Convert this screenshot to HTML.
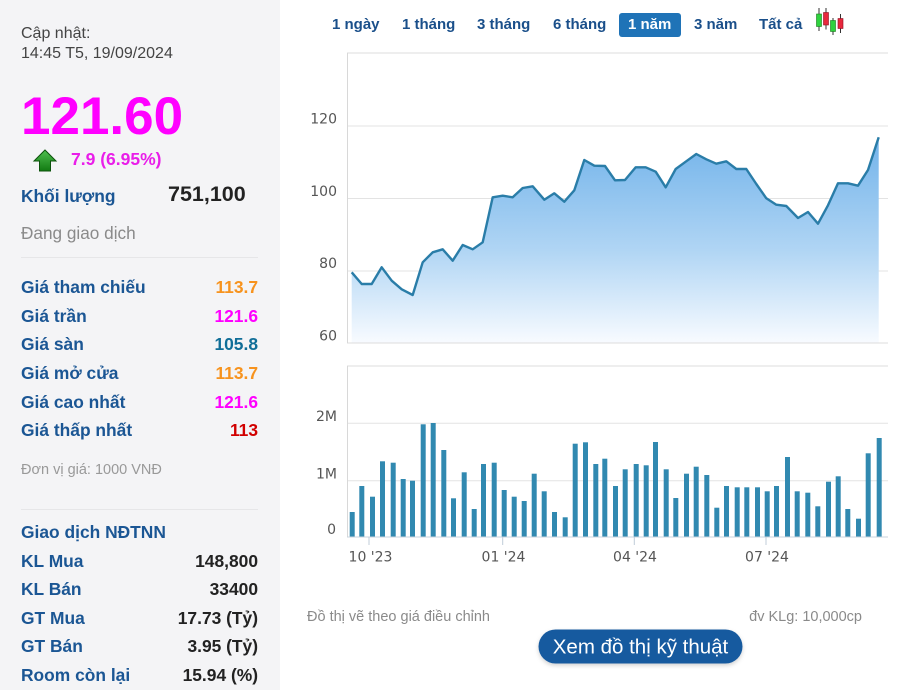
<!DOCTYPE html>
<html>
<head>
<meta charset="utf-8">
<style>
  html,body{margin:0;padding:0;background:#fff;}
  body{width:900px;height:699px;position:relative;overflow:hidden;font-family:"Liberation Sans",Arial,sans-serif;}
  .lp{position:absolute;left:0;top:0;width:280px;height:690px;background:#f4f4f6;}
  .t{position:absolute;white-space:nowrap;line-height:1;}
  .lbl{position:absolute;left:21px;font-weight:bold;font-size:17.4px;color:#1b5694;white-space:nowrap;line-height:1;}
  .val{position:absolute;right:642px;font-weight:bold;font-size:17.4px;white-space:nowrap;line-height:1;text-align:right;}
  .sep{position:absolute;left:21px;width:237px;height:1px;background:#e6e6e8;}
  .tab{position:absolute;top:17px;font-weight:bold;font-size:15px;color:#1a4f8a;white-space:nowrap;line-height:1;}
</style>
</head>
<body>
<div class="lp"></div>

<div class="t" style="left:21px;top:26px;font-size:16px;color:#444;">Cập nhật:</div>
<div class="t" style="left:21px;top:46px;font-size:16px;color:#444;">14:45 T5, 19/09/2024</div>
<div class="t" style="left:21px;top:90px;font-size:53px;font-weight:bold;color:#f0f;">121.60</div>

<svg style="position:absolute;left:0;top:0" width="70" height="180">
  <defs>
    <linearGradient id="ag" x1="0" y1="0" x2="0" y2="1">
      <stop offset="0" stop-color="#4fc04f"/>
      <stop offset="1" stop-color="#127a12"/>
    </linearGradient>
  </defs>
  <polygon points="45,150 56,161 50.5,161 50.5,171 39.5,171 39.5,161 34,161" fill="url(#ag)" stroke="#0b520b" stroke-width="1"/>
</svg>
<div class="t" style="left:71px;top:151px;font-size:17.5px;font-weight:bold;color:#e91ee9;">7.9 (6.95%)</div>

<div class="t" style="left:21px;top:188px;font-size:17.4px;font-weight:bold;color:#1b5694;">Khối lượng</div>
<div class="t" style="left:168px;top:184px;font-size:21.5px;font-weight:bold;color:#222;">751,100</div>
<div class="t" style="left:21px;top:225px;font-size:17.2px;color:#8a8a8a;">Đang giao dịch</div>

<div class="sep" style="top:257px;"></div>

<div class="lbl" style="top:279px;">Giá tham chiếu</div><div class="val" style="top:279px;color:#f7931e;">113.7</div>
<div class="lbl" style="top:308px;">Giá trần</div><div class="val" style="top:308px;color:#f0f;">121.6</div>
<div class="lbl" style="top:336px;">Giá sàn</div><div class="val" style="top:336px;color:#106e98;">105.8</div>
<div class="lbl" style="top:365px;">Giá mở cửa</div><div class="val" style="top:365px;color:#f7931e;">113.7</div>
<div class="lbl" style="top:394px;">Giá cao nhất</div><div class="val" style="top:394px;color:#f0f;">121.6</div>
<div class="lbl" style="top:422px;">Giá thấp nhất</div><div class="val" style="top:422px;color:#d10000;">113</div>

<div class="t" style="left:21px;top:463px;font-size:14.5px;color:#999;">Đơn vị giá: 1000 VNĐ</div>

<div class="sep" style="top:509px;"></div>

<div class="lbl" style="top:524px;">Giao dịch NĐTNN</div>
<div class="lbl" style="top:553px;">KL Mua</div><div class="val" style="top:553px;color:#222;">148,800</div>
<div class="lbl" style="top:581px;">KL Bán</div><div class="val" style="top:581px;color:#222;">33400</div>
<div class="lbl" style="top:610px;">GT Mua</div><div class="val" style="top:610px;color:#222;">17.73 (Tỷ)</div>
<div class="lbl" style="top:638px;">GT Bán</div><div class="val" style="top:638px;color:#222;">3.95 (Tỷ)</div>
<div class="lbl" style="top:667px;">Room còn lại</div><div class="val" style="top:667px;color:#222;">15.94 (%)</div>

<!-- tabs -->
<div class="tab" style="left:332px;">1 ngày</div>
<div class="tab" style="left:402px;">1 tháng</div>
<div class="tab" style="left:477px;">3 tháng</div>
<div class="tab" style="left:553px;">6 tháng</div>
<div style="position:absolute;left:619px;top:13px;width:62px;height:24px;background:#1f73b7;border-radius:3px;"></div>
<div class="tab" style="left:628px;color:#fff;">1 năm</div>
<div class="tab" style="left:694px;">3 năm</div>
<div class="tab" style="left:759px;">Tất cả</div>

<svg style="position:absolute;left:0;top:0" width="900" height="699">
  <defs>
    <linearGradient id="fg" x1="0" y1="137" x2="0" y2="343" gradientUnits="userSpaceOnUse">
      <stop offset="0" stop-color="#72b3ea"/>
      <stop offset="0.55" stop-color="#b0d5f4"/>
      <stop offset="1" stop-color="#f8fbff"/>
    </linearGradient>
    <filter id="sh" x="-10%" y="-30%" width="120%" height="180%">
      <feDropShadow dx="0" dy="2" stdDeviation="2" flood-color="#000" flood-opacity="0.18"/>
    </filter>
  </defs>

  <!-- candle icon -->
  <g>
    <line x1="819" y1="8" x2="819" y2="31" stroke="#333" stroke-width="1"/>
    <rect x="816.5" y="14" width="5" height="12.5" fill="#2fd33f" stroke="#1a7a1a" stroke-width="0.6"/>
    <line x1="826" y1="8" x2="826" y2="29.5" stroke="#333" stroke-width="1"/>
    <rect x="823.5" y="12.5" width="5" height="12.5" fill="#e8283c" stroke="#8a1020" stroke-width="0.6"/>
    <line x1="833" y1="18" x2="833" y2="35" stroke="#333" stroke-width="1"/>
    <rect x="830.5" y="20.5" width="5" height="11" fill="#2fd33f" stroke="#1a7a1a" stroke-width="0.6"/>
    <line x1="840.5" y1="14" x2="840.5" y2="33" stroke="#333" stroke-width="1"/>
    <rect x="838" y="18.5" width="5" height="10" fill="#e8283c" stroke="#8a1020" stroke-width="0.6"/>
  </g>

  <!-- price chart frame + grid -->
  <line x1="347" y1="53" x2="888" y2="53" stroke="#dedede" stroke-width="1"/>
  <line x1="347" y1="126" x2="888" y2="126" stroke="#e3e3e3" stroke-width="1"/>
  <line x1="347" y1="198.5" x2="888" y2="198.5" stroke="#e3e3e3" stroke-width="1"/>
  <line x1="347" y1="271" x2="888" y2="271" stroke="#e3e3e3" stroke-width="1"/>

  <polygon fill="url(#fg)" points="351.7,272.3 361.7,284 371.7,284 381.7,267.3 391.7,280.7 401.7,289.3 412.7,295 422.7,262.3 432.7,252.3 442.7,249.3 452.7,260.7 462.7,245 472.7,249.3 482.7,242.3 492.7,197.3 502.7,195.7 512.7,197.3 522.7,188 532.7,186.3 544.3,199.7 554.3,193.3 564.3,201.7 574.3,190.3 584.3,160 594.3,165.7 605,166 615,180.3 625,180 635.7,167.3 645.7,167.3 655.7,171.7 665.7,187.3 675.7,169 685.7,161.7 696.3,154 706.3,159.3 716.3,163.7 726.3,161.3 736.3,169 746.3,169 756.3,184 766.3,198.3 776.3,204.7 786.3,206 798,218 808,212 818,223.7 828,205.3 838,183.3 848,183.3 858,185.7 868,170 878.7,137.3 878.7,343 351.7,343"/>
  <line x1="347" y1="343" x2="888" y2="343" stroke="#dcdcdc" stroke-width="1"/>
  <line x1="347.5" y1="53" x2="347.5" y2="343" stroke="#d8d8d8" stroke-width="1"/>
  <polyline fill="none" stroke="#2a7da8" stroke-width="2.4" stroke-linejoin="round" points="351.7,272.3 361.7,284 371.7,284 381.7,267.3 391.7,280.7 401.7,289.3 412.7,295 422.7,262.3 432.7,252.3 442.7,249.3 452.7,260.7 462.7,245 472.7,249.3 482.7,242.3 492.7,197.3 502.7,195.7 512.7,197.3 522.7,188 532.7,186.3 544.3,199.7 554.3,193.3 564.3,201.7 574.3,190.3 584.3,160 594.3,165.7 605,166 615,180.3 625,180 635.7,167.3 645.7,167.3 655.7,171.7 665.7,187.3 675.7,169 685.7,161.7 696.3,154 706.3,159.3 716.3,163.7 726.3,161.3 736.3,169 746.3,169 756.3,184 766.3,198.3 776.3,204.7 786.3,206 798,218 808,212 818,223.7 828,205.3 838,183.3 848,183.3 858,185.7 868,170 878.7,137.3"/>

  <g font-family="'DejaVu Sans',sans-serif" font-size="14" fill="#555" text-anchor="end">
    <text x="337" y="123.5">120</text>
    <text x="337" y="196">100</text>
    <text x="337" y="268">80</text>
    <text x="337" y="340.5">60</text>
  </g>

  <!-- volume chart -->
  <line x1="347" y1="366" x2="888" y2="366" stroke="#dedede" stroke-width="1"/>
  <line x1="347" y1="423.3" x2="888" y2="423.3" stroke="#e3e3e3" stroke-width="1"/>
  <line x1="347" y1="480.7" x2="888" y2="480.7" stroke="#e3e3e3" stroke-width="1"/>
  <line x1="347.5" y1="366" x2="347.5" y2="537" stroke="#d8d8d8" stroke-width="1"/>

  <g fill="#3189b0">
    <rect x="349.7" y="512" width="5" height="24.7"/>
    <rect x="359.3" y="486" width="5" height="50.7"/>
    <rect x="370" y="496.7" width="5" height="40"/>
    <rect x="380" y="461.3" width="5" height="75.4"/>
    <rect x="390.7" y="462.7" width="5" height="74"/>
    <rect x="400.7" y="479" width="5" height="57.7"/>
    <rect x="410" y="480.7" width="5" height="56"/>
    <rect x="420.7" y="424.3" width="5" height="112.4"/>
    <rect x="430.7" y="423" width="5" height="113.7"/>
    <rect x="441.3" y="450" width="5" height="86.7"/>
    <rect x="451" y="498.3" width="5" height="38.4"/>
    <rect x="461.7" y="472.3" width="5" height="64.4"/>
    <rect x="471.7" y="509" width="5" height="27.7"/>
    <rect x="481" y="464" width="5" height="72.7"/>
    <rect x="491.7" y="462.7" width="5" height="74"/>
    <rect x="501.7" y="490" width="5" height="46.7"/>
    <rect x="511.7" y="496.7" width="5" height="40"/>
    <rect x="521.7" y="501" width="5" height="35.7"/>
    <rect x="531.7" y="473.7" width="5" height="63"/>
    <rect x="541.7" y="491.3" width="5" height="45.4"/>
    <rect x="552" y="512" width="5" height="24.7"/>
    <rect x="562.7" y="517.3" width="5" height="19.4"/>
    <rect x="572.7" y="443.7" width="5" height="93"/>
    <rect x="583" y="442.3" width="5" height="94.4"/>
    <rect x="593.3" y="464" width="5" height="72.7"/>
    <rect x="602.3" y="458.7" width="5" height="78"/>
    <rect x="613" y="486" width="5" height="50.7"/>
    <rect x="622.7" y="469.3" width="5" height="67.4"/>
    <rect x="633.7" y="464" width="5" height="72.7"/>
    <rect x="643.7" y="465.3" width="5" height="71.4"/>
    <rect x="653" y="442" width="5" height="94.7"/>
    <rect x="663.7" y="469.3" width="5" height="67.4"/>
    <rect x="673.3" y="498" width="5" height="38.7"/>
    <rect x="684" y="473.7" width="5" height="63"/>
    <rect x="693.7" y="466.7" width="5" height="70"/>
    <rect x="704.3" y="475" width="5" height="61.7"/>
    <rect x="714.3" y="507.7" width="5" height="29"/>
    <rect x="724" y="486" width="5" height="50.7"/>
    <rect x="734.7" y="487.3" width="5" height="49.4"/>
    <rect x="744.3" y="487.3" width="5" height="49.4"/>
    <rect x="755" y="487.3" width="5" height="49.4"/>
    <rect x="764.7" y="491.3" width="5" height="45.4"/>
    <rect x="774" y="486" width="5" height="50.7"/>
    <rect x="785" y="457" width="5" height="79.7"/>
    <rect x="794.7" y="491.3" width="5" height="45.4"/>
    <rect x="805.3" y="492.7" width="5" height="44"/>
    <rect x="815.3" y="506.3" width="5" height="30.4"/>
    <rect x="826" y="481.7" width="5" height="55"/>
    <rect x="835.7" y="476.3" width="5" height="60.4"/>
    <rect x="845.3" y="509" width="5" height="27.7"/>
    <rect x="856" y="518.7" width="5" height="18"/>
    <rect x="865.7" y="453.3" width="5" height="83.4"/>
    <rect x="876.7" y="438" width="5" height="98.7"/>
  </g>
  <line x1="347" y1="537" x2="888" y2="537" stroke="#c8d3dc" stroke-width="1"/>
  <g stroke="#c0ccd8" stroke-width="1">
    <line x1="369" y1="537" x2="369" y2="545"/>
    <line x1="502.7" y1="537" x2="502.7" y2="545"/>
    <line x1="634.3" y1="537" x2="634.3" y2="545"/>
    <line x1="766" y1="537" x2="766" y2="545"/>
  </g>

  <g font-family="'DejaVu Sans',sans-serif" font-size="14" fill="#555" text-anchor="end">
    <text x="337" y="421">2M</text>
    <text x="337" y="478.5">1M</text>
    <text x="336" y="534">0</text>
  </g>
  <g font-family="'DejaVu Sans',sans-serif" font-size="14" fill="#555" text-anchor="middle">
    <text x="370.5" y="561.5">10 '23</text>
    <text x="503.5" y="561.5">01 '24</text>
    <text x="635" y="561.5">04 '24</text>
    <text x="767" y="561.5">07 '24</text>
  </g>

  <!-- bottom texts -->
  <g font-family="'Liberation Sans',sans-serif" font-size="14.5" fill="#8a8a8a">
    <text x="307" y="621">Đồ thị vẽ theo giá điều chỉnh</text>
    <text x="862" y="621" text-anchor="end">đv KLg: 10,000cp</text>
  </g>

  <!-- button -->
  <rect x="538.5" y="629.5" width="204" height="34" rx="17" ry="17" fill="#195a9f" filter="url(#sh)"/>
  <text x="640.5" y="653.5" text-anchor="middle" font-family="'Liberation Sans',sans-serif" font-size="20.5" fill="#fff">Xem đồ thị kỹ thuật</text>
</svg>
</body>
</html>
